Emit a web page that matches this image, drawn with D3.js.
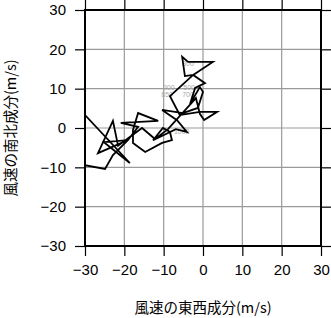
<!DOCTYPE html>
<html lang="ja">
<head>
<meta charset="utf-8">
<script src="https://d3js.org/d3.v7.min.js"></script>
<style>
  body { margin: 0; background: #fff; }
  svg { display: block; }
  .tick text { font: 15px "Liberation Sans", Arial, sans-serif; fill: #000; }
  .title { font: 14.5px "Noto Sans CJK JP", sans-serif; fill: #000; }
  .lvl { font: 7px "Liberation Sans", Arial, sans-serif; fill: #aaa; }
</style>
</head>
<body>
<script>
// hodograph: east-west (u) and north-south (v) wind components, m/s
var uWind = [-31.5, -24.9, -22.9, -19.1, -16.5, -20.9, -11.4, -16.5, -17.8, -17.8,
             -14.7, -10.4, -7.9, -8.4, -10.2, -12.7, -6.9, -4.1, -6.6, -10.4,
             -5.1, -1.3, 0.0, -0.8, -3.3, -2.0, 0.5, -2.5, -4.6, -5.3,
             -3.8, 2.5, -2.5, -8.4, -5.9, -0.8, 3.6, 0.3, -0.8, -1.8,
             -8.9, -12.2, -15.5, -21.6, -22.9, -26.7, -19.1, -25.2, -18.6, -31.2];
var vWind = [-9.2, -10.4, -6.9, -3.1, 0.3, 1.3, 1.8, 3.8, -0.5, -3.8,
             -6.1, -3.8, -3.1, -1.0, 0.0, -3.1, -0.3, -1.0, 2.0, 4.6,
             3.8, 5.1, 9.2, 10.4, 6.1, 10.2, 11.4, 13.5, 13.2, 18.1,
             16.8, 16.8, 13.5, 8.1, 3.3, 4.1, 4.1, 2.0, 3.6, 7.6,
             -0.3, -2.8, 0.0, -4.5, 1.8, -6.4, -3.1, -3.6, -8.9, 4.6];

// pressure-level labels (hPa)
var levelNames = ["1000", "850", "700", "500", "300", "200"];
var levelU = [-7.4, -10.6, -5.3, -5.0, -5.3, -10.2];
var levelV = [-1.0, 8.6, 8.6, 10.2, 16.5, 10.2];

var axisTicks = [-30, -20, -10, 0, 10, 20, 30];

var W = 331, H = 318;
var margin = {left: 85, top: 10, right: 10, bottom: 72};
var pw = W - margin.left - margin.right, ph = H - margin.top - margin.bottom;

var x = d3.scaleLinear().domain([-30, 30]).range([0, pw]);
var y = d3.scaleLinear().domain([-30, 30]).range([ph, 0]);

var svg = d3.select("body").append("svg").attr("width", W).attr("height", H);
var g = svg.append("g").attr("transform", "translate(" + margin.left + "," + margin.top + ")");

// grid
g.append("g").selectAll("line").data(axisTicks.slice(1, -1)).join("line")
  .attr("x1", function(d) { return x(d); }).attr("x2", function(d) { return x(d); })
  .attr("y1", 0).attr("y2", ph).attr("stroke", "#9a9a9a").attr("stroke-width", 1.2);
g.append("g").selectAll("line").data(axisTicks.slice(1, -1)).join("line")
  .attr("y1", function(d) { return y(d); }).attr("y2", function(d) { return y(d); })
  .attr("x1", 0).attr("x2", pw).attr("stroke", "#9a9a9a").attr("stroke-width", 1.2);

// level labels under the trace
g.append("g").selectAll("text").data(levelNames).join("text")
  .attr("class", "lvl")
  .attr("x", function(d, i) { return x(levelU[i]); })
  .attr("y", function(d, i) { return y(levelV[i]); })
  .attr("dy", "0.35em")
  .text(function(d) { return d; });

// hodograph trace
g.append("clipPath").attr("id", "clip").append("rect").attr("width", pw).attr("height", ph);
var pts = d3.range(uWind.length);
g.append("path")
  .attr("clip-path", "url(#clip)")
  .attr("fill", "none").attr("stroke", "#000").attr("stroke-width", 1.8)
  .attr("stroke-linejoin", "miter")
  .attr("d", d3.line().x(function(i) { return x(uWind[i]); }).y(function(i) { return y(vWind[i]); })(pts));

// axes
function styleAxis(sel) {
  sel.select(".domain").remove();
  sel.selectAll(".tick line").attr("stroke", "#000").attr("stroke-width", 1.2);
}
g.append("g").attr("transform", "translate(0," + ph + ")")
  .call(d3.axisBottom(x).tickValues(axisTicks).tickSize(10).tickPadding(8)).call(styleAxis);
g.append("g")
  .call(d3.axisLeft(y).tickValues(axisTicks).tickSize(10).tickPadding(9)).call(styleAxis);
g.append("g")
  .call(d3.axisTop(x).tickValues(axisTicks).tickSize(10).tickFormat("")).call(styleAxis);
g.append("g").attr("transform", "translate(" + pw + ",0)")
  .call(d3.axisRight(y).tickValues(axisTicks).tickSize(10).tickFormat("")).call(styleAxis);

// frame
g.append("rect").attr("width", pw).attr("height", ph)
  .attr("fill", "none").attr("stroke", "#000").attr("stroke-width", 2);

// titles
svg.append("text").attr("class", "title")
  .attr("x", margin.left + pw / 2).attr("y", 313).attr("text-anchor", "middle")
  .text("風速の東西成分(m/s)");
svg.append("text").attr("class", "title")
  .attr("transform", "translate(16," + (margin.top + ph / 2) + ") rotate(-90)")
  .attr("text-anchor", "middle")
  .text("風速の南北成分(m/s)");
</script>
</body>
</html>
